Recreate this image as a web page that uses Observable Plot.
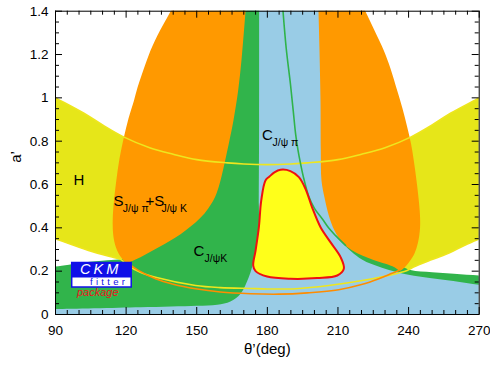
<!DOCTYPE html>
<html><head><meta charset="utf-8">
<script src="https://cdn.jsdelivr.net/npm/d3@7"></script>
<script src="https://cdn.jsdelivr.net/npm/@observablehq/plot@0.6"></script>
<style>body{margin:0;background:#fff;}#chart{width:490px;height:365px;}</style>
</head><body><div id="chart"></div>
<script>
// axis ticks
const thetaTicks = [90,120,150,180,210,240,270];
const aTicks = [0,0.2,0.4,0.6,0.8,1,1.2,1.4];
const thetaMinor = [95,100,105,110,115,125,130,135,140,145,155,160,165,170,175,185,190,195,200,205,215,220,225,230,235,245,250,255,260,265];
const aMinor = [0.05,0.1,0.15,0.25,0.3,0.35,0.45,0.5,0.55,0.65,0.7,0.75,0.85,0.9,0.95,1.05,1.1,1.15,1.25,1.3,1.35];

// boundaries: [theta' (deg), a']
const hUpper = [[85,1.03],[90,1.0],[101.9,0.93],[110,0.875],[118.9,0.82],[130,0.77],[140,0.74],[150,0.715],[163,0.70],[170,0.695],[180,0.692],[190,0.695],[197,0.70],[210,0.715],[220,0.74],[230,0.77],[241.1,0.82],[250,0.875],[258,0.93],[270,1.0],[275,1.03]];
const hLower = [[85,0.37],[90,0.35],[104,0.296],[114,0.265],[117.6,0.255],[120.5,0.228],[126,0.195],[132.5,0.172],[149.5,0.134],[160,0.124],[172.8,0.12],[180,0.118],[192,0.119],[206.1,0.134],[220.3,0.157],[235.9,0.192],[239.4,0.203],[242.1,0.219],[249,0.25],[256.4,0.28],[263,0.315],[270,0.35],[275,0.375]];
const jpsiPiRegion = [[175,1.5],[205,1.5],[206,1.0],[212,0.6],[222,0.4],[232,0.25],[245,0.188],[260,0.17],[275,0.155],[275,-0.05],[85,-0.05],[85,0.05],[150,0.08],[165,0.12],[172,0.25],[175,0.4]];
const jpsiKRegion = [[85,0.025],[85,0.222],[90,0.222],[102,0.24],[112,0.25],[118,0.255],[122,0.262],[128,0.31],[140,0.45],[155,0.7],[163,1.0],[166,1.4],[166,1.5],[176.5,1.5],[176.5,1.4],[176.5,0.9],[176.4,0.5],[176.4,0.388],[174.2,0.249],[172.1,0.172],[168.6,0.096],[164.3,0.06],[158.7,0.045],[150,0.04],[126,0.033],[90,0.025]];
const jpsiKBand = [[213.2,0.319],[218,0.305],[224,0.285],[230,0.258],[236,0.228],[240.8,0.205],[250,0.195],[259.3,0.188],[270,0.18],[277,0.177],[277,0.132],[270,0.137],[259,0.155],[249,0.168],[240,0.183],[229,0.215],[220,0.255]];
const jpsiKEdge = [[186.3,1.45],[188,1.23],[189.8,1.065],[191,0.94],[192,0.834],[193,0.76],[194.1,0.696],[195.2,0.64],[197.5,0.548],[200,0.49],[203.3,0.442],[206,0.4],[208.9,0.365],[213.2,0.319]];
const sLobeLeft = [[143.5,1.5],[138.85,1.399],[136.73,1.357],[134.39,1.311],[132.27,1.265],[130.36,1.219],[128.45,1.163],[126.53,1.103],[124.84,1.048],[123.35,0.988],[121.01,0.905],[119.02,0.817],[117.19,0.720],[115.83,0.619],[114.85,0.526],[114.30,0.434],[114.55,0.365],[115.70,0.309],[117.61,0.268],[120.16,0.240],[123.99,0.254],[128.23,0.277],[132.48,0.302],[136.73,0.328],[140.98,0.355],[145.23,0.388],[149.48,0.425],[153.30,0.466],[156.27,0.512],[158.40,0.559],[160.10,0.619],[161.80,0.697],[163.90,0.803],[165.60,0.896],[167.60,1.034],[169.00,1.173],[170.08,1.311],[170.72,1.399],[171.45,1.5]];
const sLobeRight = [[201.5,1.5],[201.73,1.399],[202.15,1.219],[202.58,0.988],[202.71,0.757],[203.00,0.619],[204.28,0.540],[206.10,0.457],[208.52,0.388],[211.80,0.334],[215.75,0.298],[220.29,0.272],[225.09,0.252],[230.19,0.234],[234.01,0.218],[236.35,0.203],[238.26,0.217],[240.39,0.245],[242.51,0.282],[244.00,0.332],[244.85,0.397],[244.85,0.457],[244.34,0.526],[243.36,0.619],[242.21,0.711],[241.02,0.789],[239.41,0.865],[237.41,0.951],[235.16,1.034],[232.31,1.136],[229.47,1.219],[225.52,1.311],[221.69,1.399],[217.3,1.5]];
const sLower = [[120.5,0.238],[125,0.205],[132.5,0.165],[140,0.14],[149.5,0.119],[160,0.104],[172.8,0.096],[185,0.094],[197,0.1],[210.3,0.114],[220,0.138],[227.4,0.165],[233,0.19],[236.3,0.205]];
const combined = [[185.6,0.668],[183,0.656],[180.9,0.637],[179.2,0.619],[177.4,0.526],[176.4,0.403],[175.0,0.295],[174.0,0.226],[175.0,0.2],[179.9,0.175],[189.8,0.165],[201.2,0.168],[209.7,0.18],[212.5,0.211],[211.1,0.265],[206.8,0.334],[202.6,0.403],[199.0,0.495],[196.2,0.58],[193.4,0.634],[189.8,0.662]];

// labels
const bigLabels = [
  {t:97.6, a:0.621, text:"H"},
  {t:114.6, a:0.522, text:"S"},
  {t:128.2, a:0.522, text:"+S"},
  {t:148.6, a:0.291, text:"C"},
  {t:177.7, a:0.826, text:"C"}
];
const subLabels = [
  {t:118.6, a:0.489, text:"J/\u03c8 \u03c0"},
  {t:135.0, a:0.489, text:"J/\u03c8 K"},
  {t:153.3, a:0.259, text:"J/\u03c8K"},
  {t:182.2, a:0.792, text:"J/\u03c8 \u03c0"}
];

const W = 490, H = 365, mL = 55, mR = 11.3, mT = 10.7, mB = 51;
const iW = W - mL - mR, iH = H - mT - mB;
const FONT = "'Liberation Sans', Arial, Helvetica, sans-serif";

const region = (pts, fill) => Plot.line(pts, {x: d => d[0], y: d => d[1], fill, stroke: "none", curve: "catmull-rom-closed", clip: true});
const edge = (pts, stroke, w) => Plot.line(pts, {x: d => d[0], y: d => d[1], stroke, strokeWidth: w, fill: "none", curve: "catmull-rom", clip: true});

const plot = Plot.plot({
  width: W, height: H,
  marginLeft: mL, marginRight: mR, marginTop: mT, marginBottom: mB,
  style: {fontFamily: FONT, fontSize: "13.5px", background: "white", color: "black"},
  x: {domain: [90, 270], ticks: thetaTicks, tickSize: 0, tickPadding: 11, label: null},
  y: {domain: [0, 1.4], ticks: aTicks, tickSize: 0, tickPadding: 7, label: null, tickFormat: d => String(+d.toFixed(1))},
  marks: [
    region(hUpper.concat(hLower.slice().reverse()), "#e6e619"),
    region(jpsiPiRegion, "#99cce6"),
    region(jpsiKRegion, "#31b44b"),
    region(jpsiKBand, "#31b44b"),
    region(sLobeLeft, "#ff9900"),
    region(sLobeRight, "#ff9900"),
    edge(hUpper, "#eee61e", 1.6),
    edge(hLower, "#eee61e", 1.6),
    edge(sLower, "#ff8c00", 1.6),
    edge(jpsiKEdge, "#2fb34a", 1.6),
    Plot.line(combined, {x: d => d[0], y: d => d[1], fill: "#ffff1a", stroke: "#ee1111", strokeWidth: 2, curve: "catmull-rom-closed"}),
    Plot.text(bigLabels, {x: "t", y: "a", text: "text", textAnchor: "start", fontSize: 15, fill: "black"}),
    Plot.text(subLabels, {x: "t", y: "a", text: "text", textAnchor: "start", fontSize: 10.5, fill: "black"}),
    // ticks (inside, all four sides)
    Plot.ruleX(thetaTicks, {x: d => d, insetTop: iH - 7, stroke: "black"}),
    Plot.ruleX(thetaTicks, {x: d => d, insetBottom: iH - 7, stroke: "black"}),
    Plot.ruleX(thetaMinor, {x: d => d, insetTop: iH - 4, stroke: "black"}),
    Plot.ruleX(thetaMinor, {x: d => d, insetBottom: iH - 4, stroke: "black"}),
    Plot.ruleY(aTicks, {y: d => d, insetRight: iW - 7, stroke: "black"}),
    Plot.ruleY(aTicks, {y: d => d, insetLeft: iW - 7, stroke: "black"}),
    Plot.ruleY(aMinor, {y: d => d, insetRight: iW - 4, stroke: "black"}),
    Plot.ruleY(aMinor, {y: d => d, insetLeft: iW - 4, stroke: "black"}),
    Plot.frame({stroke: "black", strokeWidth: 1}),
    Plot.text(["\u03b8\u2019(deg)"], {frameAnchor: "bottom", dy: 39, fontSize: 15, fill: "black"}),
    Plot.text(["a\u2019"], {frameAnchor: "left", dx: -39, rotate: -90, fontSize: 15, fill: "black"})
  ]
});
document.getElementById("chart").appendChild(plot);

// CKMfitter logo (decoration)
const svg = d3.select(plot.tagName.toLowerCase() === "svg" ? plot : plot.querySelector("svg"));
const g = svg.append("g").attr("font-family", FONT).attr("text-anchor", "start");
g.append("rect").attr("x", 71.7).attr("y", 262.5).attr("width", 59.5).attr("height", 24.5).attr("fill", "white").attr("stroke", "#1010e8").attr("stroke-width", 1.5);
g.append("rect").attr("x", 71.7).attr("y", 262.5).attr("width", 59.5).attr("height", 15).attr("fill", "#1010e8");
g.append("text").attr("x", 80).attr("y", 274).attr("fill", "white").attr("font-size", 14.5).attr("font-style", "italic").attr("letter-spacing", 3).text("CKM");
g.append("text").attr("x", 90).attr("y", 285).attr("fill", "#1010e8").attr("font-size", 9.5).attr("letter-spacing", 3.3).text("fitter");
g.append("text").attr("x", 77).attr("y", 295.5).attr("fill", "#e8141e").attr("font-size", 11).attr("font-style", "italic").text("package");
</script>
</body></html>
